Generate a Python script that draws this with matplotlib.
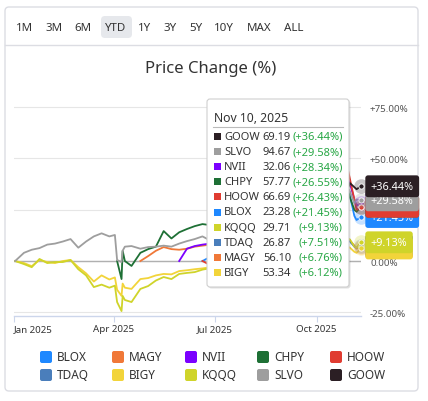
import numpy as np
import pandas as pd
import matplotlib
matplotlib.use("Agg")
import matplotlib.pyplot as plt
import matplotlib.transforms as mtransforms
from matplotlib.patches import FancyBboxPatch
from matplotlib.lines import Line2D

plt.rcParams['font.family'] = ['Noto Sans', 'DejaVu Sans']

# ---- data (percent change since each fund's first day) ----
dates = pd.to_datetime([
    "2025-01-02", "2025-01-10", "2025-01-17", "2025-01-24", "2025-01-31",
    "2025-02-07", "2025-02-14", "2025-02-21", "2025-02-28", "2025-03-07",
    "2025-03-14", "2025-03-21", "2025-03-28", "2025-04-02", "2025-04-04",
    "2025-04-08", "2025-04-09", "2025-04-11", "2025-04-17", "2025-04-25",
    "2025-05-02", "2025-05-09", "2025-05-16", "2025-05-23", "2025-05-30",
    "2025-06-06", "2025-06-13", "2025-06-20", "2025-06-27", "2025-07-03",
    "2025-07-11", "2025-07-18", "2025-07-25", "2025-08-01", "2025-08-08",
    "2025-08-15", "2025-08-22", "2025-08-29", "2025-09-05", "2025-09-12",
    "2025-09-19", "2025-09-26", "2025-10-03", "2025-10-10", "2025-10-17",
    "2025-10-24", "2025-10-29", "2025-10-31", "2025-11-04", "2025-11-06",
    "2025-11-10"])

blox = [None] * 27 + [0, 2, 4, 6, 5, 7, 3, 6, 8, 7, 8, 10, 13, 16, 18, 24, 20,
                      26, 30, 34, 32, 22, 20, 21.45]
magy = [None] * 19 + [0, 2.4, 5, 6.8, 5.8, 5.5, 6, 7, 7.5, 8, 9, 8.5, 9, 9.5, 7,
                      8, 8.5, 8, 8.5, 8, 9, 10, 10.5, 11, 8, 9, 10, 11, 10, 7.5,
                      6, 6.76]
nvii = [None] * 24 + [0, 6, 7.3, 8, 8.5, 10, 12, 14, 15, 13, 16, 17, 15, 17, 18,
                      20, 23, 25, 30, 28, 33, 36, 40, 38, 30, 27, 28.34]
chpy = [None] * 14 + [0, -8.8, 5, 0, -2.4, 4, 5.8, 7, 14.6, 11, 14, 15.6, 17, 18,
                      17.5, 19, 20, 21, 22, 18, 21, 22, 20, 21, 22, 25, 28, 29,
                      32, 27, 30, 33, 35, 31, 25, 24, 26.55]
hoow = [None] * 27 + [0, -2, 3, 8, 12, 10, 6, 12, 15, 11, 14, 18, 24, 30, 28, 38,
                      36, 40, 42, 45, 40, 30, 25, 26.43]
tdaq = [None] * 34 + [0, 1, 0.5, 1, 2, 3.5, 5, 5.5, 7, 4, 6, 8, 10, 9.5, 7, 6.5,
                      7.51]
bigy = [0, -1, -2.5, 0.5, -0.5, -1, 0, 0.5, -3, -6, -10, -7, -9, -8, -14, -17,
        -11, -13, -13.6, -8.8, -8.3, -7, -6.3, -6.5, -4.9, -4.5, -4, -3.6, -3,
        -2, -1.5, -1, 0, -2, 0, 1, 0.5, 1, 1.5, 2.5, 3.5, 3, 4.5, 2, 4, 5.5, 7,
        6.5, 4.5, 4, 6.12]
kqqq = [0, -1.5, -3, 1, -1, -0.5, -0.5, 0.5, -4, -7, -12.7, -11.5, -13, -12, -20,
        -24.4, -17, -19, -20, -13.6, -12.2, -9.5, -7.8, -8.8, -6.3, -5.8, -5.4,
        -4.2, -3.5, -2, -1, 0, 1, -2, 1, 2, 1.5, 2, 3, 4.5, 6, 5.5, 7.5, 4, 6.5,
        8.5, 11, 10.5, 7, 6.5, 9.13]
slvo = [0, 4, 5.5, 6.3, 8, 8.5, 9.5, 10.7, 6.5, 9.5, 12, 13.5, 12, 12.7, 0.5,
        -0.5, 5, 7, 7.3, 6, 6.8, 7, 7.5, 7, 8.5, 9.7, 10.7, 12, 10, 11, 13, 12,
        14, 12, 15, 17, 18, 22, 25, 27, 30, 34, 38, 42, 45, 38, 36, 34, 28, 30,
        29.58]
goow = [None] * 36 + [0, 2, 12, 15, 20, 19, 20, 18, 21, 26, 35, 38, 36, 35, 36.44]

names = ["BLOX", "MAGY", "NVII", "CHPY", "HOOW", "TDAQ", "BIGY", "KQQQ", "SLVO", "GOOW"]
series = [blox, magy, nvii, chpy, hoow, tdaq, bigy, kqqq, slvo, goow]
colors = ["#1e88ff", "#f07838", "#7b00ff", "#1e7035", "#e03c31",
          "#4a7ebb", "#f2d43a", "#cfd42a", "#9e9e9e", "#2b1f24"]
last_price = [23.28, 56.10, 32.06, 57.77, 66.69, 26.87, 53.34, 29.71, 94.67, 69.19]

buttons = ["1M", "3M", "6M", "YTD", "1Y", "3Y", "5Y", "10Y", "MAX", "ALL"]

W, H = 428, 402
fig = plt.figure(figsize=(W / 100, H / 100), dpi=100)
# pixel coords, origin top-left
px = mtransforms.Affine2D().scale(1, -1).translate(0, H).scale(1 / W, 1 / H) + fig.transFigure

# card + header
fig.patches.append(FancyBboxPatch((5, 8), 413, 384, boxstyle="round,pad=0,rounding_size=4",
                                  transform=px, fc="white", ec="#dcdde3", lw=1, zorder=-2))
fig.lines.append(Line2D([5, 418], [45.5, 45.5], transform=px, color="#dcdde3", lw=1))
btn_x = [25, 54, 83, 116, 145, 170, 196, 224, 259, 294]
fig.patches.append(FancyBboxPatch((101, 17), 31, 22, boxstyle="round,pad=0,rounding_size=4",
                                  transform=px, fc="#e6e8ec", ec="none", zorder=-1))
for b, x in zip(buttons, btn_x):
    fig.text(x, 28.5, b, transform=px, ha="center", va="center", fontsize=8.3,
             color="#333333", fontweight="medium")
fig.text(211, 69, "Price Change (%)", transform=px, ha="center", va="center",
         fontsize=12, color="#333333", fontweight="medium")

# chart
ax = fig.add_axes([14 / W, 1 - 317 / H, (361 - 14) / W, (317 - 102) / H])
ax.set_facecolor("none")
for name, vals, c in zip(names, series, colors):
    ax.plot(dates, np.array(vals, dtype=float), color=c, lw=1.3, solid_joinstyle="round")

ax.set_xlim(pd.Timestamp("2025-01-01"), pd.Timestamp("2025-11-10"))
ax.set_ylim(-26.8, 78)
ax.set_yticks([-25, 0, 25, 50, 75])
ax.set_yticklabels(["-25.00%", "0.00%", "+25.00%", "+50.00%", "+75.00%"])
ax.yaxis.tick_right()
ax.tick_params(axis="y", length=0, pad=6.5, labelsize=7, labelcolor="#555555")
ax.grid(axis="y", color="#e6e6e6", lw=0.8)
ax.axhline(0, color="#b0b0b0", lw=1, zorder=1.6)

xt = pd.to_datetime(["2025-01-01", "2025-04-01", "2025-07-01", "2025-10-01"])
ax.set_xticks(xt)
ax.set_xticklabels(["Jan 2025", "Apr 2025", "Jul 2025", "Oct 2025"])
ax.get_xticklabels()[0].set_ha("left")
ax.tick_params(axis="x", length=4.5, width=0.8, color="#ccd6eb", pad=1.5,
               labelsize=7, labelcolor="#333333")
for s in ["top", "left", "right"]:
    ax.spines[s].set_visible(False)
ax.spines["bottom"].set_color("#ccd6eb")
ax.spines["bottom"].set_linewidth(1)

# end markers + value boxes
for name, vals, c in zip(names, series, colors):
    v = vals[-1]
    ax.scatter([dates[-1]], [v], s=110, color=c, alpha=0.25, lw=0, zorder=4, clip_on=False)
    ax.scatter([dates[-1]], [v], s=14, color=c, ec="white", lw=0.6, zorder=4, clip_on=False)
for name, vals, c in zip(names, series, colors):
    v = vals[-1]
    ax.annotate(f"+{v:.2f}%", xy=(dates[-1], v), xytext=(7, 0), textcoords="offset points",
                ha="left", va="center", fontsize=7.8, color="white", annotation_clip=False,
                bbox=dict(boxstyle="round,pad=0.5,rounding_size=0.25", fc=c, ec="none"),
                zorder=5)

# tooltip
fig.patches.append(FancyBboxPatch((208.5, 101.5), 142, 188, boxstyle="round,pad=0,rounding_size=3",
                                  transform=px, fc="#000000", ec="none", alpha=0.12, zorder=5))
fig.patches.append(FancyBboxPatch((207, 100), 142, 188, boxstyle="round,pad=0,rounding_size=3",
                                  transform=px, fc="white", ec="#cfcfcf", lw=0.8, zorder=6))
fig.text(214, 118, "Nov 10, 2025", transform=px, ha="left", va="center",
         fontsize=8.8, color="#333333", zorder=7)
fig.lines.append(Line2D([213, 343], [128, 128], transform=px, color="#bbbbbb", lw=0.8, zorder=7))
order = sorted(range(len(names)), key=lambda i: -series[i][-1])
for r, i in enumerate(order):
    y = 137.5 + r * 15.1
    fig.patches.append(FancyBboxPatch((214, y - 3.5), 7, 7, boxstyle="square,pad=0",
                                      transform=px, fc=colors[i], ec="none", zorder=7))
    fig.text(224, y, names[i], transform=px, ha="left", va="center", fontsize=8,
             color="#333333", fontweight="medium", zorder=7)
    fig.text(291, y, f"{last_price[i]:.2f}", transform=px, ha="right", va="center",
             fontsize=8, color="#333333", fontweight="medium", zorder=7)
    fig.text(343, y, f"(+{series[i][-1]:.2f}%)", transform=px, ha="right", va="center",
             fontsize=8, color="#28a745", zorder=7)

# legend
leg_x = [40, 112, 185, 257, 330]
leg_y = [358, 376]
for k, (name, c) in enumerate(zip(names, colors)):
    x, y = leg_x[k % 5], leg_y[k // 5]
    fig.patches.append(FancyBboxPatch((x, y - 6), 12, 12, boxstyle="round,pad=0,rounding_size=2",
                                      transform=px, fc=c, ec="none", zorder=2))
    fig.text(x + 17, y, name, transform=px, ha="left", va="center", fontsize=8.5,
             color="#333333")

fig.savefig("out.png", dpi=100)
